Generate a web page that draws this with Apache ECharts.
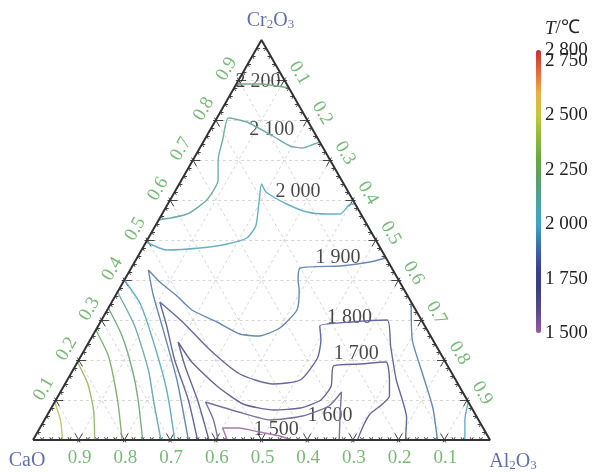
<!DOCTYPE html>
<html>
<head>
<meta charset="utf-8">
<script src="https://cdn.jsdelivr.net/npm/echarts@6/dist/echarts.min.js"></script>
<style>
html, body { margin: 0; padding: 0; background: #fff; }
#main { width: 593px; height: 472px; }
</style>
</head>
<body>
<div id="main"></div>
<script>
// 各等温线的点: [CaO, Al2O3, Cr2O3] (%)
var iso1500 = [[57.5,42.5,0],[57,40,3],[53.5,43.5,3],[49.5,48.5,2],[45.5,53.5,1],[43.5,56.5,0]];
var iso1600 = [[59.5,40.5,0],[58,37,5],[57.5,33,9.5],[51.5,41.5,7],[45.5,49.5,5],[38,56,6],[31,60.5,8.5],[26.5,61.5,12],[29,63.5,7.5],[33,67,0]];
var iso1700 = [[61.5,38.5,0],[59,31,10],[57.5,24,18.5],[56,19.5,24.5],[55.5,25,19.5],[53,33.5,13.5],[49.5,41.5,9],[43.5,49,7.5],
               [37.5,54.5,8],[32,58,10],[28,58.5,13.5],[25,56.5,18.5],[19,62,19],[13,67.5,19.5],[14.5,70.5,15],[16.5,72.5,11],
               [19,72,9],[23,70.5,6.5],[26,70.5,3.5],[29,71,0]];
var iso1800 = [[64,36,0],[61,29,10],[59,21,20],[56.5,15,28.5],[55,10.5,34.5],[52.5,18,29.5],[50,27.5,22.5],[46.5,37,16.5],
               [40.5,45.5,14],[34,51,15],[27.5,52,20.5],[24.5,50.5,25],[23,48.5,28.5],[15.5,55,29.5],[7.5,62.5,30],[10,66.5,23.5],
               [13,72,15],[15.5,79,5.5],[18.5,81.5,0]];
var iso1900a = [[66,34,0],[61,24,15],[58,15.5,26.5],[55.5,8,36.5],[53.5,4,42.5],[52.5,8,39.5],[50.5,13.5,36],[49,18.5,32.5],
                [45,25.5,29.5],[41.5,32,26.5],[37.5,36.5,26],[32,40,28],[26,41.5,32.5],[23,39.5,37.5],[22,38,40],[20,37,43],
                [11,45.5,43.5],[4,51.5,44.5],[0,54.5,45.5]];
var iso1900b = [[0,65.5,34.5],[4.5,70.5,25],[6.5,77,16.5],[8.5,83.5,8],[11.5,88.5,0]];
var iso2000a = [[50.5,0,49.5],[47,5.5,47.5],[39.5,12.5,48],[33,18,49],[28,21.5,50.5],[24.5,22,53.5],[20.5,19.5,60],[18,18,64],
                [18,20,62],[15,26,59],[11.5,31.5,57],[7.5,36,56.5],[4.5,39,56.5],[1,40,59],[0,41,59]];
var iso2000b = [[60,0,40],[59.5,6.5,34],[61.5,14.5,24],[64.5,23,12.5],[69,31,0]];
var iso2000c = [[0,90.5,9.5],[3,92,5],[5.5,94.5,0]];
var iso2100a = [[45,0,55],[38,5.5,56.5],[32,8,60],[27,8,65],[24.5,5.5,70],[21,4,75],[17,2.5,80.5],[13.5,7,79.5],[9.5,14.5,76],
                [7,19.5,73.5],[4.5,22.5,73],[1.5,24.5,74],[0,25.5,74.5]];
var iso2100b = [[63,0,37],[63.5,8,28.5],[66,16.5,17.5],[69,22,9],[72,28,0]];
var iso2200a = [[11,0,89],[6,5,89],[0,12,88]];
var iso2200b = [[67,0,33],[67.5,6.5,26],[69.5,13,17.5],[72,18,10],[76,24,0]];
var iso2300 = [[72.5,0,27.5],[73,6,21],[76.5,13.5,10],[80.5,19.5,0]];
var iso2400 = [[80.5,0,19.5],[81,5,14],[83,9.5,7.5],[86.5,13.5,0]];
var iso2500 = [[90.5,0,9.5],[91.5,3.5,5],[93.5,6.5,0]];

var contourList = [
    [1500, iso1500], [1600, iso1600], [1700, iso1700], [1800, iso1800],
    [1900, iso1900a], [1900, iso1900b], [2000, iso2000a], [2000, iso2000b], [2000, iso2000c],
    [2100, iso2100a], [2100, iso2100b], [2200, iso2200a], [2200, iso2200b],
    [2300, iso2300], [2400, iso2400], [2500, iso2500]
];

// 等温线标注位置
var isoLabels = [
    [2200, [6,4.5,89.5]], [2100, [9,13.5,77.5]], [2000, [11,27,62]], [1900, [10.5,44,45.5]],
    [1800, [15.5,54,30.5]], [1700, [18.5,60,21.5]], [1600, [32,62,6]], [1500, [45.5,52,2.5]]
];

var tickValues = [0.1, 0.2, 0.3, 0.4, 0.5, 0.6, 0.7, 0.8, 0.9];
var barTicks = [1500, 1750, 2000, 2250, 2500, 2750];
var barTop = [2800];
var palette = ['#9a5aa0','#5a4a90','#3c3c88','#3a4090','#3d6eaa','#3ea5c8','#4aa3a0',
               '#5a9e6a','#68a844','#8cba3e','#c6c83e','#e9b04a','#e46a3a','#c43030'];

var serif = "'Liberation Serif', 'Times New Roman', serif";
var green = '#55a955';
var blue = '#3b4b9b';

// 三元坐标 -> 直角坐标
function toXY(p) {
    var s = p[0] + p[1] + p[2];
    var a = p[1] / s, r = p[2] / s;
    return [a + r / 2, r];
}

function fmtT(v) {
    var s = String(v);
    return s.slice(0, 1) + ' ' + s.slice(1);
}

function hexRgb(h) {
    return [parseInt(h.substr(1, 2), 16), parseInt(h.substr(3, 2), 16), parseInt(h.substr(5, 2), 16)];
}

function lineColor(t) {
    var f = (t - 1500) / 100;
    var i = Math.max(0, Math.min(palette.length - 2, Math.floor(f)));
    var k = f - i;
    var c1 = hexRgb(palette[i]), c2 = hexRgb(palette[i + 1]);
    var out = [];
    for (var j = 0; j < 3; j++) {
        var v = c1[j] + (c2[j] - c1[j]) * k;
        out.push(Math.round(v * 0.7 + 200 * 0.3));
    }
    return 'rgb(' + out.join(',') + ')';
}

// 旋转后的标签偏移 (label.offset 随 rotate 一起旋转)
function rotOffset(deg, x, y) {
    var t = deg * Math.PI / 180, c = Math.cos(t), s = Math.sin(t);
    return [x * c - y * s, x * s + y * c];
}

// 网格线
var gridLines = [];
tickValues.forEach(function (v) {
    gridLines.push({ coords: [toXY([1 - v, 0, v]), toXY([0, 1 - v, v])] });
    gridLines.push({ coords: [toXY([1 - v, v, 0]), toXY([0, v, 1 - v])] });
    gridLines.push({ coords: [toXY([v, 1 - v, 0]), toXY([v, 0, 1 - v])] });
});

// 边上的刻度
var tickLines = [];
function addTicks(i, v, len, back) {
    // i: 该边上为 0 的组分
    var p = [0, 0, 0];
    var j = (i + 1) % 3, k = (i + 2) % 3;
    p[j] = v; p[k] = 1 - v;
    [j, k].forEach(function (m) {
        var q1 = p.slice(), q2 = p.slice();
        q1[i] += len; q1[m] -= len;
        q2[i] -= back; q2[m] += back;
        tickLines.push({ coords: [toXY(q2), toXY(q1)] });
    });
}
for (var e = 0; e < 3; e++) {
    for (var n = 1; n < 50; n++) {
        var v = n / 50;
        if (n % 5 === 0) addTicks(e, v, 0.016, 0.006);
        else addTicks(e, v, 0.007, 0);
    }
}

// 轴刻度标签
var axisLabels = [];
tickValues.forEach(function (v) {
    var txt = v.toFixed(1);
    axisLabels.push({ value: toXY([v, 1 - v, 0]), name: txt, label: { offset: [1, 18] } });
    axisLabels.push({ value: toXY([1 - v, 0, v]), name: txt, label: { rotate: 60, offset: rotOffset(60, -12, -11) } });
    axisLabels.push({ value: toXY([0, v, 1 - v]), name: txt, label: { rotate: -60, offset: rotOffset(-60, 15, -7) } });
});

var series = [
    {
        type: 'lines', coordinateSystem: 'cartesian2d', clip: false, silent: true,
        lineStyle: { color: '#cccccc', width: 0.8, type: [3, 3], opacity: 1 },
        data: gridLines
    }
];

contourList.forEach(function (c) {
    series.push({
        type: 'line', smooth: 0.2, symbol: 'none', silent: true,
        lineStyle: { color: lineColor(c[0]), width: 1.4 },
        data: c[1].map(toXY)
    });
});

series.push({
    type: 'line', symbol: 'none', silent: true,
    lineStyle: { color: '#333', width: 2 },
    data: [toXY([100, 0, 0]), toXY([0, 100, 0]), toXY([0, 0, 100]), toXY([100, 0, 0])]
});
series.push({
    type: 'lines', coordinateSystem: 'cartesian2d', clip: false, silent: true,
    lineStyle: { color: '#444', width: 1, opacity: 1 },
    data: tickLines
});
series.push({
    type: 'scatter', symbolSize: 0, silent: true,
    label: {
        show: true, position: 'inside', formatter: function (p) { return fmtT(p.data[2]); },
        fontFamily: serif, fontSize: 20, color: '#1a1a1a'
    },
    data: isoLabels.map(function (d) { var xy = toXY(d[1]); return [xy[0], xy[1], d[0]]; })
});
series.push({
    type: 'scatter', symbolSize: 0, silent: true,
    label: { show: true, position: 'inside', formatter: '{b}', fontFamily: serif, fontSize: 19, color: green },
    data: axisLabels
});

var richName = {
    n: { fontFamily: serif, fontSize: 20, color: blue, lineHeight: 22, verticalAlign: 'bottom' },
    s: { fontFamily: serif, fontSize: 13, color: blue, lineHeight: 8, verticalAlign: 'bottom' }
};
series.push({
    type: 'scatter', symbolSize: 0, silent: true,
    label: { show: true, position: 'inside', formatter: '{b}', rich: richName },
    data: [
        { value: toXY([100, 0, 0]), name: 'CaO', label: { formatter: '{n|CaO}', offset: [-6, 20] } },
        { value: toXY([0, 100, 0]), name: 'Al', label: { formatter: '{n|Al}{s|2}{n|O}{s|3}', offset: [23, 21] } },
        { value: toXY([0, 0, 100]), name: 'Cr', label: { formatter: '{n|Cr}{s|2}{n|O}{s|3}', offset: [9, -20] } }
    ]
});
// 色条用的空系列
series.push({ type: 'scatter', xAxisIndex: 1, yAxisIndex: 1, data: [] });

var barLabel = { fontFamily: serif, fontSize: 19, color: '#222', margin: 4, showMaxLabel: true, showMinLabel: true, formatter: fmtT };

var chart = echarts.init(document.getElementById('main'));
chart.setOption({
    animation: false,
    grid: [
        { left: 33, top: 40, width: 457, height: 400 },
        { left: 536, top: 50, width: 5, height: 283 }
    ],
    xAxis: [
        { type: 'value', min: 0, max: 1, show: false },
        { type: 'value', gridIndex: 1, min: 0, max: 1, show: false }
    ],
    yAxis: [
        { type: 'value', min: 0, max: 1, show: false },
        {
            type: 'value', gridIndex: 1, min: 1500, max: 2800, position: 'right',
            name: '{i|T}/℃', nameLocation: 'end', nameGap: 12,
            nameTextStyle: {
                fontFamily: serif, fontSize: 19, color: '#222', align: 'left', padding: [0, 0, 0, 9],
                rich: { i: { fontFamily: serif, fontSize: 19, fontStyle: 'italic', color: '#222' } }
            },
            axisLine: { show: false }, axisTick: { show: false }, splitLine: { show: false },
            axisLabel: Object.assign({ customValues: barTicks }, barLabel)
        },
        {
            type: 'value', gridIndex: 1, min: 1500, max: 2800, position: 'right',
            axisLine: { show: false }, axisTick: { show: false }, splitLine: { show: false },
            axisLabel: Object.assign({ customValues: barTop }, barLabel)
        }
    ],
    visualMap: {
        type: 'continuous', min: 1500, max: 2800, seriesIndex: series.length - 1,
        left: 536, top: 50, itemWidth: 5, itemHeight: 283, padding: 0,
        calculable: false, hoverLink: false,
        inRange: { color: palette }
    },
    series: series
});
</script>
</body>
</html>
